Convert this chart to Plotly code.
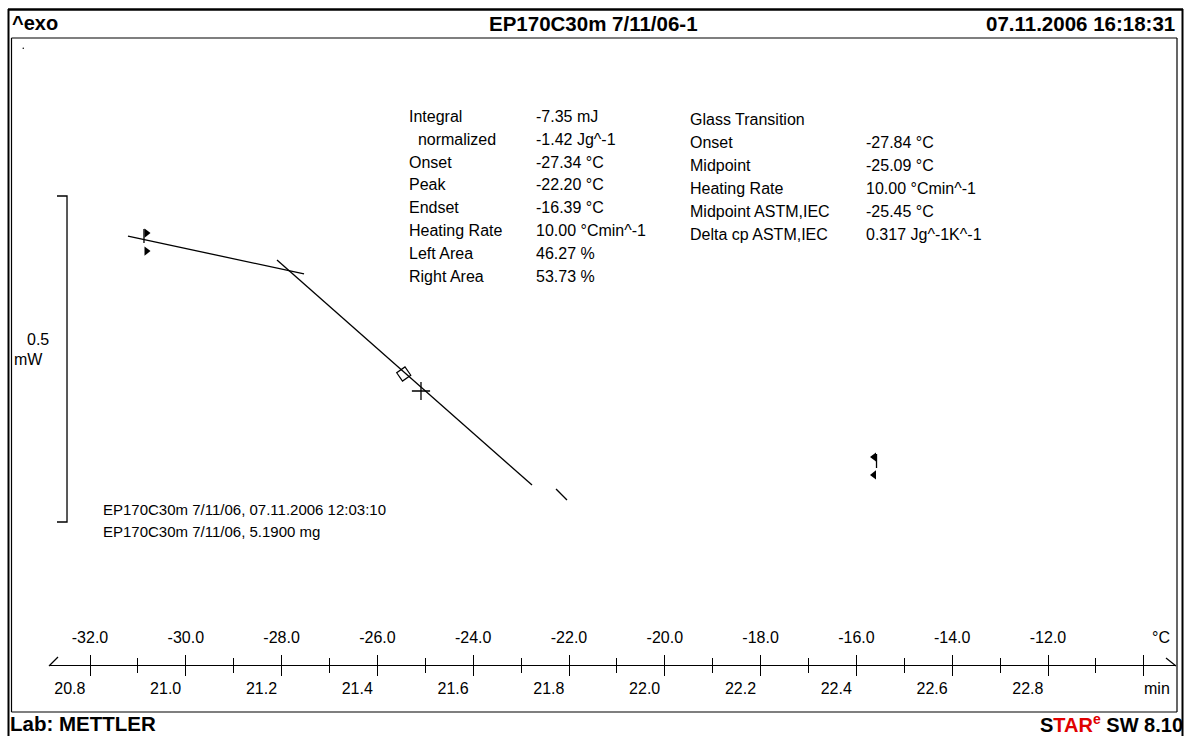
import plotly.graph_objects as go

W, H = 1186, 736

# ---------------- data ----------------
# temperature scale (°C) and the matching time scale (min)
temp_tick_vals = [-32, -30, -28, -26, -24, -22, -20, -18, -16, -14, -12, -10]
temp_tick_text = ["-32.0", "-30.0", "-28.0", "-26.0", "-24.0", "-22.0",
                  "-20.0", "-18.0", "-16.0", "-14.0", "-12.0", " "]
time_tick_vals = [20.8, 21.0, 21.2, 21.4, 21.6, 21.8, 22.0, 22.2, 22.4, 22.6, 22.8]
time_tick_text = ["20.8", "21.0", "21.2", "21.4", "21.6", "21.8",
                  "22.0", "22.2", "22.4", "22.6", "22.8"]
time_at_minus32 = 20.842      # min
heating_rate = 10.0           # K/min

# curve / evaluation lines  (x in °C, y in mW)
baseline_T = [-31.207, -27.532]
baseline_mW = [-0.0614, -0.1196]
step_T = [-28.096, -22.772]
step_mW = [-0.0982, -0.4433]
tail_T = [-22.271, -22.042]
tail_mW = [-0.4494, -0.4663]

midpoint_astm_T = [-25.45]
midpoint_astm_mW = [-0.2730]
midpoint_T = [-25.09]
midpoint_mW = [-0.2991]

# integration limit flags
left_flag_T = [-30.873, -30.873]
left_flag_mW = [-0.0506, -0.0721]
left_tri_T = [-30.82, -30.82]
left_tri_mW = [-0.0568, -0.0844]
right_flag_T = [-15.58, -15.58]
right_flag_mW = [-0.3957, -0.4172]
right_tri_T = [-15.633, -15.633]
right_tri_mW = [-0.4003, -0.4279]

# scale bar 0.5 mW
scale_T = [-32.689, -32.480, -32.480, -32.689]
scale_mW = [0.0, 0.0, -0.5, -0.5]

# result texts
integral_labels = ["Integral", "  normalized", "Onset", "Peak", "Endset",
                   "Heating Rate", "Left Area", "Right Area"]
integral_values = ["-7.35 mJ", "-1.42 Jg^-1", "-27.34 °C", "-22.20 °C",
                   "-16.39 °C", "10.00 °Cmin^-1", "46.27 %", "53.73 %"]
glass_labels = ["Glass Transition", "Onset", "Midpoint", "Heating Rate",
                "Midpoint ASTM,IEC", "Delta cp ASTM,IEC"]
glass_values = ["", "-27.84 °C", "-25.09 °C", "10.00 °Cmin^-1",
                "-25.45 °C", "0.317 Jg^-1K^-1"]
sample_lines = ["EP170C30m 7/11/06, 07.11.2006 12:03:10",
                "EP170C30m 7/11/06, 5.1900 mg"]

# ---------------- layout geometry ----------------
px_per_degC = 47.9
x0_px, ref_T = 90.0, -32.0
dom_px = (49.0, 1176.0)
T_lo = ref_T + (dom_px[0] - x0_px) / px_per_degC
T_hi = ref_T + (dom_px[1] - x0_px) / px_per_degC
t_lo = time_at_minus32 + (T_lo - ref_T) / heating_rate
t_hi = time_at_minus32 + (T_hi - ref_T) / heating_rate

px_per_mW = 652.0
y_top = 196.0 / px_per_mW
y_range = [y_top - H / px_per_mW, y_top]

axis_py = 665.0
axis_pos = 1 - axis_py / H

FONT = "Liberation Sans, Arial, sans-serif"


def px(x):
    return x / W


def py(y):
    return 1 - y / H


fig = go.Figure()

line_style = dict(color="black", width=1.3)
for xs, ys in [(baseline_T, baseline_mW), (step_T, step_mW), (tail_T, tail_mW),
               (left_flag_T, left_flag_mW), (right_flag_T, right_flag_mW),
               (scale_T, scale_mW)]:
    fig.add_trace(go.Scatter(x=xs, y=ys, mode="lines", line=line_style,
                             showlegend=False, hoverinfo="skip"))

fig.add_trace(go.Scatter(x=midpoint_astm_T, y=midpoint_astm_mW, mode="markers",
                         marker=dict(symbol="diamond-open", size=11, angle=10,
                                     color="black",
                                     line=dict(color="black", width=1.2)),
                         showlegend=False, hoverinfo="skip"))
fig.add_trace(go.Scatter(x=midpoint_T, y=midpoint_mW, mode="markers",
                         marker=dict(symbol="cross-thin", size=13, color="black",
                                     line=dict(color="black", width=1.3)),
                         showlegend=False, hoverinfo="skip"))
fig.add_trace(go.Scatter(x=left_tri_T, y=left_tri_mW, mode="markers",
                         marker=dict(symbol="triangle-right", size=8, color="black"),
                         showlegend=False, hoverinfo="skip"))
fig.add_trace(go.Scatter(x=right_tri_T, y=right_tri_mW, mode="markers",
                         marker=dict(symbol="triangle-left", size=8, color="black"),
                         showlegend=False, hoverinfo="skip"))
# carriers for the overlay axes
fig.add_trace(go.Scatter(x=[None], y=[None], xaxis="x2", showlegend=False, hoverinfo="skip"))
fig.add_trace(go.Scatter(x=[None], y=[None], xaxis="x3", showlegend=False, hoverinfo="skip"))

tick_common = dict(tickcolor="black", tickwidth=1.3, showgrid=False, zeroline=False)
fig.update_layout(
    width=W, height=H,
    margin=dict(l=0, r=0, t=0, b=0),
    paper_bgcolor="white", plot_bgcolor="white",
    font=dict(family=FONT, size=16, color="black"),
    xaxis=dict(domain=[px(dom_px[0]), px(dom_px[1])], range=[T_lo, T_hi],
               anchor="free", position=axis_pos, side="bottom",
               showline=True, linecolor="black", linewidth=1.3,
               ticks="outside", ticklen=10, tickmode="linear", tick0=0, dtick=2,
               showticklabels=False,
               minor=dict(ticks="outside", ticklen=7, tickmode="linear", tick0=0,
                          dtick=1, tickcolor="black", tickwidth=1.3, showgrid=False),
               **tick_common),
    xaxis2=dict(domain=[px(dom_px[0]), px(dom_px[1])], range=[T_lo, T_hi],
                overlaying="x", anchor="free", position=axis_pos, side="top",
                showline=False, ticks="outside", ticklen=10,
                tickmode="array", tickvals=temp_tick_vals, ticktext=temp_tick_text,
                tickfont=dict(size=16), ticklabelstandoff=6,
                minor=dict(ticks="outside", ticklen=7, tickmode="linear", tick0=0,
                           dtick=1, tickcolor="black", tickwidth=1.3, showgrid=False),
                **tick_common),
    xaxis3=dict(domain=[px(dom_px[0]), px(dom_px[1])], range=[t_lo, t_hi],
                overlaying="x", anchor="free", position=axis_pos, side="bottom",
                showline=False, ticks="", tickmode="array",
                tickvals=time_tick_vals, ticktext=time_tick_text,
                tickfont=dict(size=16), ticklabelstandoff=12,
                showgrid=False, zeroline=False),
    yaxis=dict(domain=[0, 1], range=y_range, visible=False, fixedrange=True),
)

# frames
shapes = []


def seg(x1, y1, x2, y2, w=1.0):
    shapes.append(dict(type="line", xref="paper", yref="paper",
                       x0=px(x1), y0=py(y1), x1=px(x2), y1=py(y2),
                       line=dict(color="black", width=w)))


seg(8, 9.5, 1183, 9.5, 2.5)      # outer top
seg(8.5, 9, 8.5, 736, 2)         # outer left
seg(1182.5, 9, 1182.5, 736, 2)   # outer right
seg(11.5, 38, 1177, 38, 1.2)     # inner top
seg(11.5, 38, 11.5, 712, 1.2)    # inner left
seg(1177, 38, 1177, 712, 1.2)    # inner right
seg(11.5, 712, 1177, 712, 1.2)   # inner bottom
seg(49, 666, 58, 657, 1.3)       # axis break marks
seg(1166, 658, 1176, 666, 1.3)
shapes.append(dict(type="circle", xref="paper", yref="paper",
                   x0=px(22.5), y0=py(47.5), x1=px(24), y1=py(49),
                   fillcolor="black", line=dict(width=0)))
fig.update_layout(shapes=shapes)

anns = []


def txt(x, y, s, size=16, xanchor="left", bold=False, color="black"):
    if bold:
        s = "<b>" + s + "</b>"
    anns.append(dict(x=px(x), y=py(y), xref="paper", yref="paper", text=s,
                     showarrow=False, xanchor=xanchor, yanchor="middle",
                     font=dict(family=FONT, size=size, color=color)))


# header / footer
txt(10, 23, "^exo", 20, bold=True)
txt(593, 23, "EP170C30m 7/11/06-1", 20.5, xanchor="center", bold=True)
txt(1177, 23, "07.11.2006 16:18:31", 20.5, xanchor="right", bold=True)
txt(8, 723, "Lab: METTLER", 20.5, bold=True)
txt(1185, 723, "S<span style='color:#e00000'>TAR<sup>e</sup></span> SW 8.10",
    20, xanchor="right", bold=True)

# result blocks
for i, (lab, val) in enumerate(zip(integral_labels, integral_values)):
    y = 116 + i * 23
    txt(407, y, lab.replace("  ", "&nbsp;&nbsp;"), 16)
    txt(534, y, val, 16)
for i, (lab, val) in enumerate(zip(glass_labels, glass_values)):
    y = 119 + i * 23
    txt(688, y, lab, 16)
    if val:
        txt(864, y, val, 16)
for i, s in enumerate(sample_lines):
    txt(101, 509 + i * 22, s, 15)

# scale bar label and axis units
txt(38, 339, "0.5", 16, xanchor="center")
txt(12, 359, "mW", 16)
txt(1172, 637, "°C", 16, xanchor="right")
txt(1172, 688, "min", 16, xanchor="right")

fig.update_layout(annotations=anns)
fig.write_html("out.html")
